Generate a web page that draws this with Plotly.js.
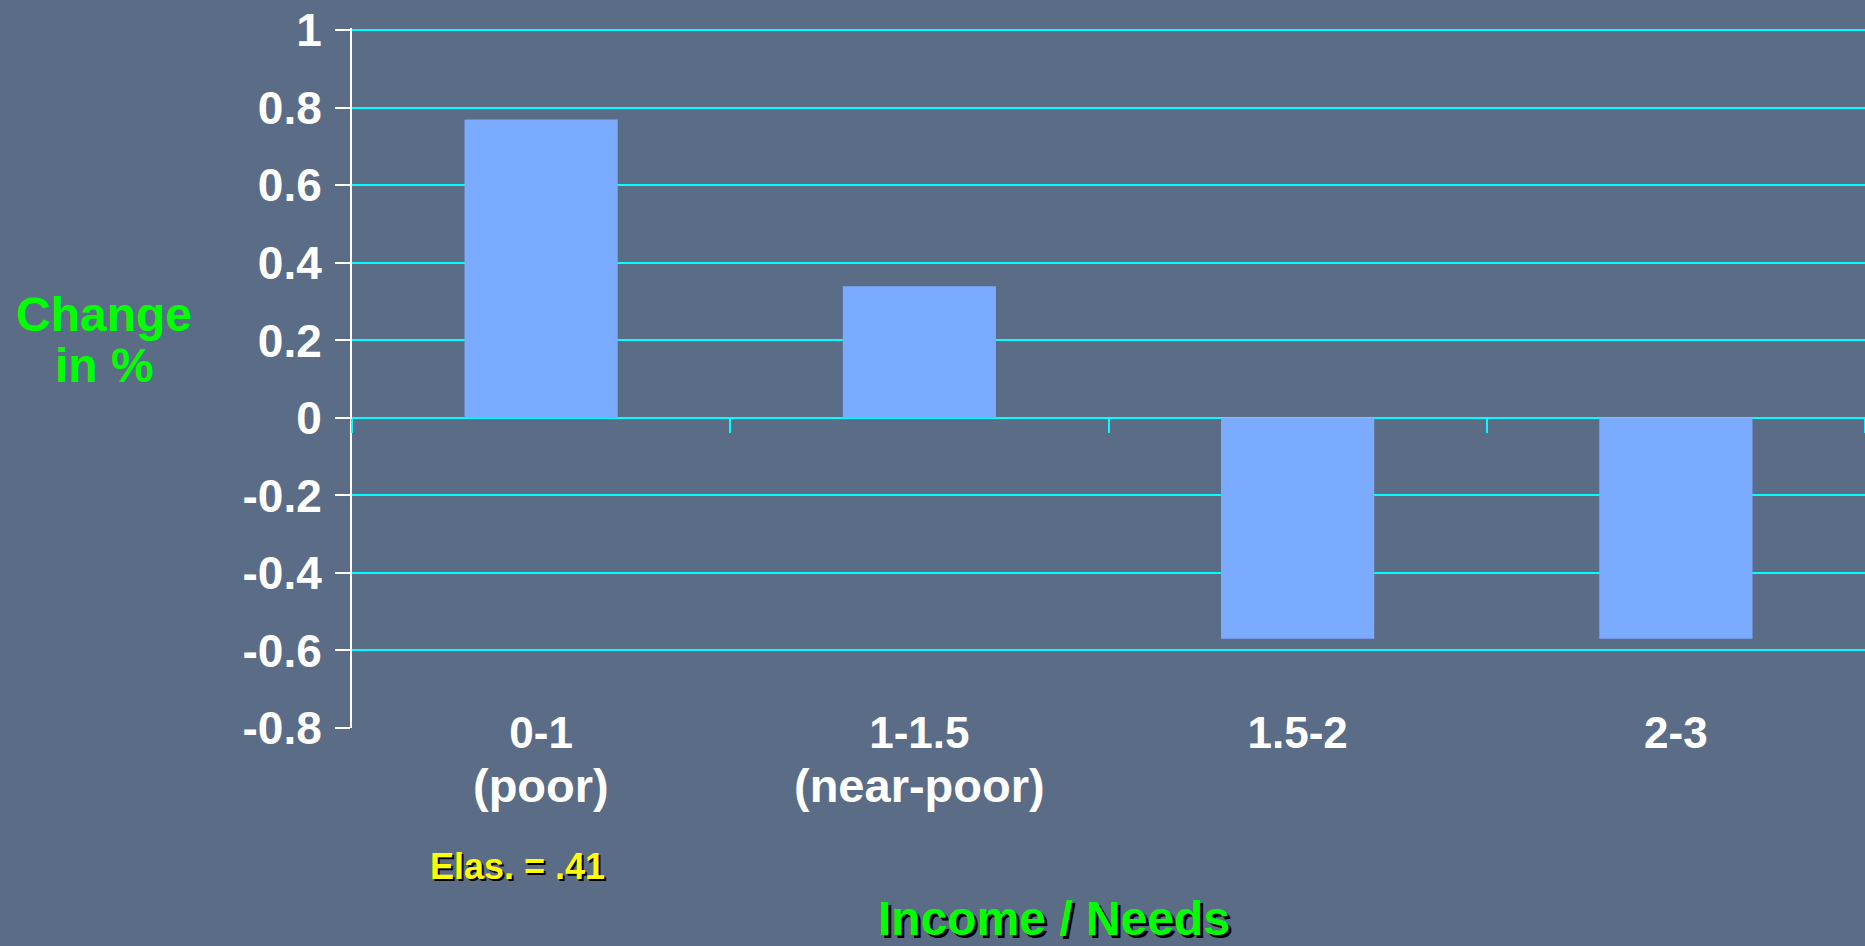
<!DOCTYPE html>
<html>
<head>
<meta charset="utf-8">
<script src="https://cdn.plot.ly/plotly-3.0.1.min.js"></script>
<style>
  html, body { margin: 0; padding: 0; background: #5B6C87; }
  #chart { width: 1865px; height: 946px; }
</style>
</head>
<body>
<div id="chart"></div>
<script>
// Income-to-needs groups (first label line), their descriptors (second line)
// and the percentage change for each group
const incomeNeedsGroups = ['0-1', '1-1.5', '1.5-2', '2-3'];
const groupDescriptors = ['(poor)', '(near-poor)', '', ''];
const changePct = [0.77, 0.34, -0.57, -0.57];

// Y axis ticks (hyphen-minus labels)
const yTickVals = [-0.8, -0.6, -0.4, -0.2, 0, 0.2, 0.4, 0.6, 0.8, 1];
const yTickText = ['-0.8', '-0.6', '-0.4', '-0.2', '0', '0.2', '0.4', '0.6', '0.8', '1'];

const yTitleLines = ['Change', 'in %'];
const xTitle = 'Income / Needs';
const elasticityNote = 'Elas. = .41';

const FONT = '"Liberation Sans", Arial, Helvetica, sans-serif';
const BG = '#5B6C87';
const CYAN = '#00FFFF';
const GREEN = '#00FF00';

const trace = {
  type: 'bar',
  x: incomeNeedsGroups,
  y: changePct,
  marker: { color: '#7AABFF', line: { width: 0 } },
  hoverinfo: 'skip'
};

// top of range sits a hair above 1 so the gridline at 1 is kept
const Y_MIN = -0.8, Y_MAX = 1.006;
const zeroPos = (0 - Y_MIN) / (Y_MAX - Y_MIN);
const catRange = [-0.5, incomeNeedsGroups.length - 0.5];

// descriptor line under each category label
const descriptorNotes = incomeNeedsGroups
  .map((g, i) => ({ g, d: groupDescriptors[i] }))
  .filter(o => o.d)
  .map(o => ({
    text: o.d, xref: 'x', yref: 'paper',
    x: o.g, y: -0.082, xanchor: 'center', yanchor: 'middle', showarrow: false,
    font: { family: FONT, size: 47, color: 'white', weight: 'bold' }
  }));

const layout = {
  width: 1865,
  height: 946,
  paper_bgcolor: BG,
  plot_bgcolor: BG,
  margin: { l: 352, r: 0, t: 28, b: 218, pad: 0 },
  showlegend: false,
  bargap: 0.595,
  font: { family: FONT, color: 'white' },
  xaxis: {
    type: 'category',
    categoryorder: 'array',
    categoryarray: incomeNeedsGroups,
    range: catRange,
    anchor: 'free',
    position: zeroPos,
    showline: false,
    showgrid: false,
    zeroline: false,
    ticks: 'outside',
    tickson: 'boundaries',
    ticklen: 14,
    tickwidth: 2,
    tickcolor: CYAN,
    ticklabelstandoff: 285,
    tickfont: { family: FONT, size: 44, color: 'white', weight: 'bold' }
  },
  yaxis: {
    range: [Y_MIN, Y_MAX],
    tickmode: 'array',
    tickvals: yTickVals,
    ticktext: yTickText,
    ticks: 'outside',
    ticklen: 15,
    tickwidth: 2,
    tickcolor: 'white',
    showline: true,
    linecolor: 'white',
    linewidth: 2,
    showgrid: true,
    gridcolor: CYAN,
    gridwidth: 2,
    zeroline: false,
    ticklabelstandoff: 4,
    tickfont: { family: FONT, size: 46, color: 'white', weight: 'bold' }
  },
  annotations: descriptorNotes.concat([
    {
      text: yTitleLines[0], xref: 'paper', yref: 'paper',
      x: -0.1636, y: 0.5905, xanchor: 'center', yanchor: 'middle', showarrow: false,
      font: { family: FONT, size: 48, color: GREEN, weight: 'bold' }
    },
    {
      text: yTitleLines[1], xref: 'paper', yref: 'paper',
      x: -0.1636, y: 0.5172, xanchor: 'center', yanchor: 'middle', showarrow: false,
      font: { family: FONT, size: 48, color: GREEN, weight: 'bold' }
    },
    {
      text: elasticityNote, xref: 'paper', yref: 'paper',
      x: 0.1097, y: -0.1977, xanchor: 'center', yanchor: 'middle', showarrow: false,
      font: { family: FONT, size: 36, color: '#FFFF00', weight: 'bold', shadow: '2px 2px 0px #000000' }
    },
    {
      text: xTitle, xref: 'paper', yref: 'paper',
      x: 0.464, y: -0.2725, xanchor: 'center', yanchor: 'middle', showarrow: false,
      font: { family: FONT, size: 48, color: GREEN, weight: 'bold', shadow: '3px 3px 0px #000000' }
    }
  ])
};

Plotly.newPlot('chart', [trace], layout, { staticPlot: true, displayModeBar: false });
</script>
</body>
</html>
